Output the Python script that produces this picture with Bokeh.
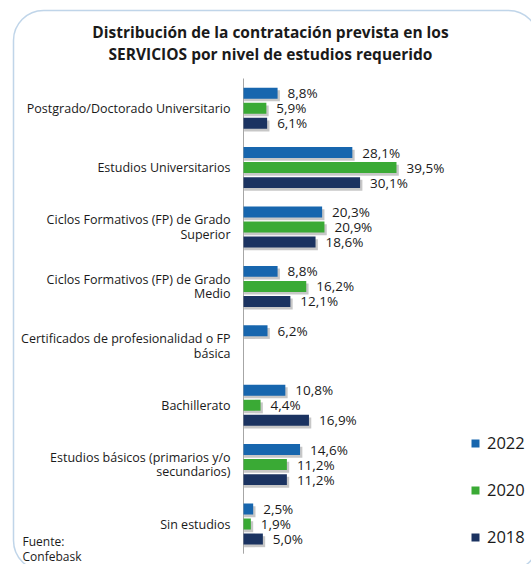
import math
from bokeh.plotting import figure
from bokeh.models import (Range1d, ColumnDataSource, Label, BoxAnnotation,
                          Legend, LegendItem)
from bokeh.transform import dodge
from bokeh.core.properties import value
from bokeh.embed import file_html
from bokeh.resources import INLINE

nan = float("nan")

# ---- data ----
categories = [
    "Postgrado/Doctorado Universitario",
    "Estudios Universitarios",
    "Ciclos Formativos (FP) de Grado\nSuperior",
    "Ciclos Formativos (FP) de Grado\nMedio",
    "Certificados de profesionalidad o FP\nbásica",
    "Bachillerato",
    "Estudios básicos (primarios y/o\nsecundarios)",
    "Sin estudios",
]
v2022 = [8.8, 28.1, 20.3, 8.8, 6.2, 10.8, 14.6, 2.5]
v2020 = [5.9, 39.5, 20.9, 16.2, nan, 4.4, 11.2, 1.9]
v2018 = [6.1, 30.1, 18.6, 12.1, nan, 16.9, 11.2, 5.0]
series_names = ["2022", "2020", "2018"]
series_values = [v2022, v2020, v2018]
title_lines = ["Distribución de la contratación prevista en los",
               "SERVICIOS por nivel de estudios requerido"]
source_lines = ["Fuente:", "Confebask"]

# ---- layout / style constants ----
W, H = 531, 564
AXIS_PX = 243          # x pixel of the value axis
PX_PER_PCT = 3.873     # pixels per percentage point
TOP_PX = 78            # top of the category band
GROUP_PX = 59.4        # height of one category slot
colors = ["#1766AE", "#3AAA35", "#1B3361"]
offsets = [-0.253, 0.0, 0.253]
BAR_H = 0.185
FONT = "Open Sans"
TXT = "#1a1a1a"

n = len(categories)
pos = list(range(n))

p = figure(width=W, height=H,
           x_range=Range1d(-AXIS_PX / PX_PER_PCT, (W - AXIS_PX) / PX_PER_PCT),
           y_range=Range1d((H - TOP_PX) / GROUP_PX - 0.5, -TOP_PX / GROUP_PX - 0.5),
           output_backend="svg", toolbar_location=None,
           min_border=0, min_border_left=0, min_border_right=0,
           min_border_top=0, min_border_bottom=0)
p.outline_line_color = None
p.xaxis.visible = False
p.yaxis.visible = False
p.xgrid.visible = False
p.ygrid.visible = False
p.background_fill_color = "white"
p.border_fill_color = "white"

# category axis: line + labels
p.segment(x0=0, y0=-0.5, x1=0, y1=n - 0.5, line_color="#a6a6a6", line_width=1)
cat_src = ColumnDataSource(dict(x=[0] * n, pos=pos, name=categories))
p.text(x="x", y="pos", text="name", source=cat_src, x_offset=-13,
       text_align="right", text_baseline="middle", text_line_height=0.85,
       text_font=value(FONT), text_font_size="12.5px", text_color=TXT)

items = []
for name, vals, col, off in zip(series_names, series_values, colors, offsets):
    keep = [i for i, v in enumerate(vals) if not math.isnan(v)]
    vv = [vals[i] for i in keep]
    src = ColumnDataSource(dict(
        pos=[pos[i] for i in keep], val=vv,
        sh=[v + 0.6 for v in vv],
        lab=[("%.1f" % v).replace(".", ",") + "%" for v in vv],
    ))
    # soft shadow
    p.hbar(y=dodge("pos", off + 0.045), left=0.15, right="sh", height=BAR_H,
           source=src, fill_color="#000000", fill_alpha=0.22, line_color=None)
    r = p.hbar(y=dodge("pos", off), left=0, right="val", height=BAR_H,
               source=src, fill_color=col, line_color=None)
    p.text(x="val", y=dodge("pos", off), text="lab", source=src,
           x_offset=10, text_baseline="middle", text_align="left",
           text_font=value(FONT), text_font_size="13.5px", text_color=TXT)
    items.append(LegendItem(label=name, renderers=[r]))

legend = Legend(items=items, location=(470, 16), orientation="vertical",
                glyph_width=10, glyph_height=10, label_height=20,
                label_standoff=7, spacing=24, padding=0, margin=0,
                border_line_color=None, background_fill_alpha=0,
                label_text_font=FONT, label_text_font_size="16.5px",
                label_text_color=TXT)
p.add_layout(legend)

# title (two lines)
for i, t in enumerate(title_lines):
    p.add_layout(Label(x=270, y=533 - 22 * i, x_units="screen", y_units="screen",
                       text=t, text_align="center", text_baseline="middle",
                       text_font=FONT, text_font_style="bold",
                       text_font_size="15.5px", text_color=TXT))

for i, t in enumerate(source_lines):
    p.add_layout(Label(x=22, y=23 - 15 * i, x_units="screen", y_units="screen",
                       text=t, text_align="left", text_baseline="middle",
                       text_font=FONT, text_font_size="12px", text_color=TXT))

# rounded frame border
p.add_layout(BoxAnnotation(left=13, right=538, top=554, bottom=-6,
                           left_units="screen", right_units="screen",
                           top_units="screen", bottom_units="screen",
                           fill_color=None, fill_alpha=0,
                           line_color="#2E75B6", line_width=1.5,
                           border_radius=30, level="overlay"))

open("out.html", "w").write(file_html(p, INLINE))
